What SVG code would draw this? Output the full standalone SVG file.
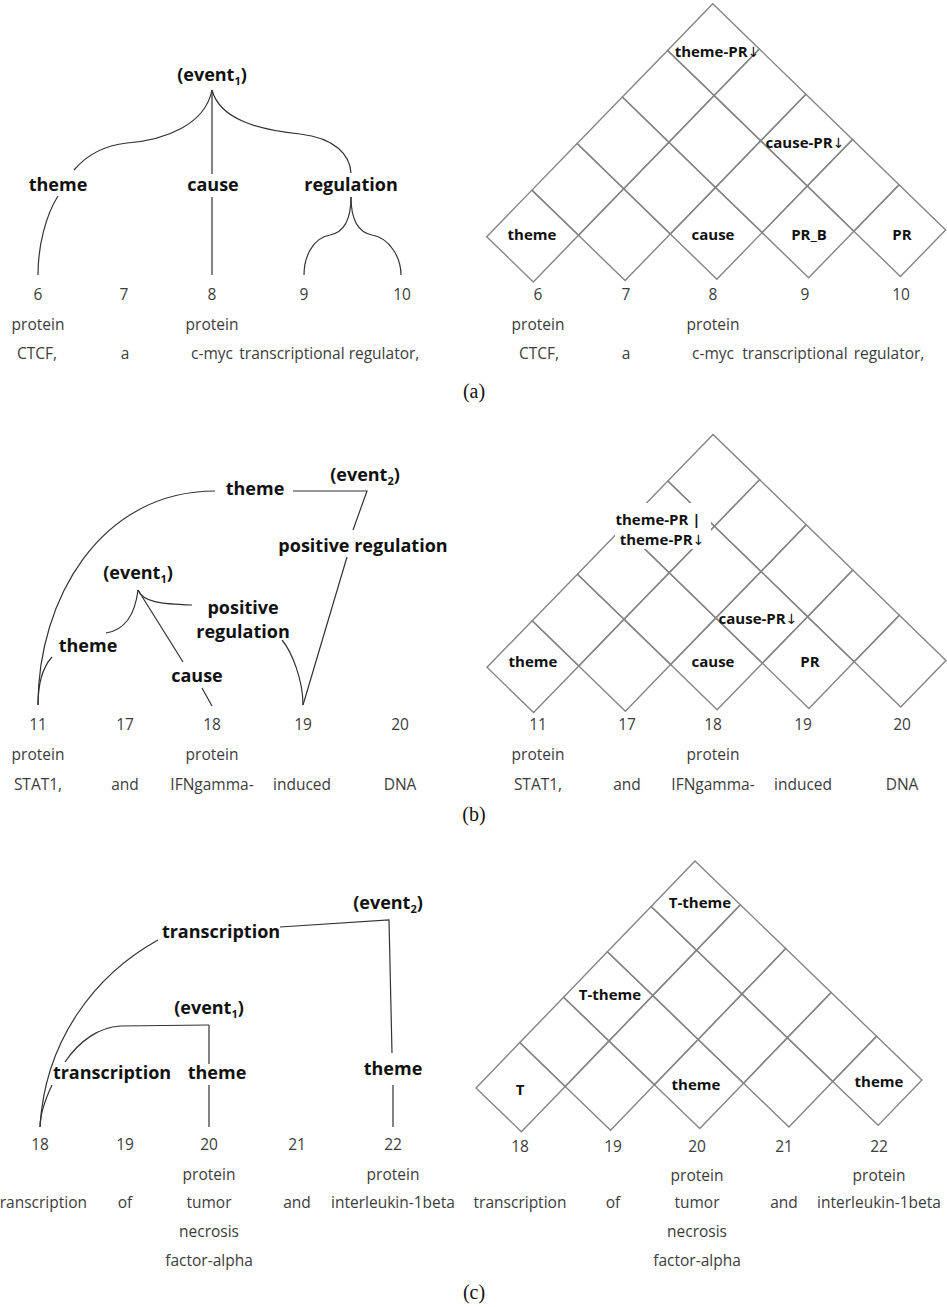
<svg xmlns="http://www.w3.org/2000/svg" xmlns:xlink="http://www.w3.org/1999/xlink" width="947" height="1307" viewBox="0 0 947 1307">
<style>
.lbl{font-family:"Open Sans","Noto Sans",sans-serif;font-weight:bold;font-size:18px;fill:#111;text-anchor:middle}
.glbl{font-family:"Open Sans","Noto Sans",sans-serif;font-weight:bold;font-size:15px;fill:#111;text-anchor:middle}
.arr{font-family:"DejaVu Sans",sans-serif;font-weight:normal;font-size:14px}
.tok{font-family:"Open Sans","Noto Sans",sans-serif;font-size:15.5px;fill:#3c3c3c;text-anchor:middle}
.cap{font-family:"Liberation Serif",serif;font-size:20px;fill:#111;text-anchor:middle}
.edge{fill:none;stroke:#333;stroke-width:1.2}
.bg{fill:#fff}
</style>
<defs>
<g id="grid" fill="none" stroke="#858585">
<polygon points="0,0 1,-1 2,0 1,1"/>
<polygon points="2,0 3,-1 4,0 3,1"/>
<polygon points="4,0 5,-1 6,0 5,1"/>
<polygon points="6,0 7,-1 8,0 7,1"/>
<polygon points="8,0 9,-1 10,0 9,1"/>
<polygon points="1,-1 2,-2 3,-1 2,0"/>
<polygon points="3,-1 4,-2 5,-1 4,0"/>
<polygon points="5,-1 6,-2 7,-1 6,0"/>
<polygon points="7,-1 8,-2 9,-1 8,0"/>
<polygon points="2,-2 3,-3 4,-2 3,-1"/>
<polygon points="4,-2 5,-3 6,-2 5,-1"/>
<polygon points="6,-2 7,-3 8,-2 7,-1"/>
<polygon points="3,-3 4,-4 5,-3 4,-2"/>
<polygon points="5,-3 6,-4 7,-3 6,-2"/>
<polygon points="4,-4 5,-5 6,-4 5,-3"/>
</g>
</defs>

<!-- ===== Panel (a) left ===== -->
<g id="connectors-a">
<path class="edge" d="M212,90 L212,174 M212,197 L212,275"/>
<path class="edge" d="M212,90 C205,125 165,140 127,143 C100,146 85,157 74,170"/>
<path class="edge" d="M58,196 C46,215 38,245 38,275"/>
<path class="edge" d="M212,90 C220,120 260,130 300,134 C335,138 350,155 351,173"/>
<path class="edge" d="M351,197 C351,225 340,233 330,235 C312,238 304,258 304,275"/>
<path class="edge" d="M351,197 C351,225 362,233 372,235 C390,238 401,258 401,275"/>
</g>
<g id="a-event1"><text class="lbl" x="212" y="81">(event<tspan font-size="11" dy="4">1</tspan><tspan dy="-4">)</tspan></text></g>
<g id="a-theme"><text class="lbl" x="58" y="191">theme</text></g>
<g id="a-cause"><text class="lbl" x="213" y="191">cause</text></g>
<g id="a-regulation"><text class="lbl" x="351" y="191">regulation</text></g>
<g id="a-left-tokens">
<text class="tok" x="38" y="300">6</text><text class="tok" x="124" y="300">7</text><text class="tok" x="212" y="300">8</text><text class="tok" x="304" y="300">9</text><text class="tok" x="402" y="300">10</text>
<text class="tok" x="38" y="330">protein</text><text class="tok" x="212" y="330">protein</text>
<text class="tok" x="37" y="359">CTCF,</text><text class="tok" x="125" y="359">a</text><text class="tok" x="212" y="359">c-myc</text><text class="tok" x="292" y="359">transcriptional</text><text class="tok" x="384" y="359">regulator,</text>
</g>

<!-- ===== Panel (a) right ===== -->
<g id="a-grid"><use xlink:href="#grid" href="#grid" stroke-width="0.0305" transform="translate(486.7,236.7) rotate(-0.85) scale(45.9)"/></g>
<g id="a-grid-labels">
<text class="glbl" x="532" y="240">theme</text>
<text class="glbl" x="713" y="240">cause</text>
<text class="glbl" x="809" y="240">PR_B</text>
<text class="glbl" x="902" y="240">PR</text>
<text class="glbl" x="717" y="57">theme-PR<tspan class="arr">↓</tspan></text>
<text class="glbl" x="805" y="148">cause-PR<tspan class="arr">↓</tspan></text>
</g>
<g id="a-right-tokens">
<text class="tok" x="538" y="300">6</text><text class="tok" x="626" y="300">7</text><text class="tok" x="713" y="300">8</text><text class="tok" x="805" y="300">9</text><text class="tok" x="901" y="300">10</text>
<text class="tok" x="538" y="330">protein</text><text class="tok" x="713" y="330">protein</text>
<text class="tok" x="539" y="359">CTCF,</text><text class="tok" x="626" y="359">a</text><text class="tok" x="713" y="359">c-myc</text><text class="tok" x="795" y="359">transcriptional</text><text class="tok" x="889" y="359">regulator,</text>
</g>
<text class="cap" x="474" y="398">(a)</text>

<!-- ===== Panel (b) left ===== -->
<g id="connectors-b">
<path class="edge" d="M38,705 C38,600 100,491 215,491"/>
<path class="edge" d="M293,491 L367,491 L353,530 M347,557 L303,705"/>
<path class="edge" d="M138,590 C143,602 160,604 192,605"/>
<path class="edge" d="M138,590 C135,615 125,630 106,633"/>
<path class="edge" d="M52,657 C42,668 38,685 38,705"/>
<path class="edge" d="M138,590 L183,662 M202,688 L212,706"/>
<path class="edge" d="M282,640 C292,652 303,680 303,705"/>
</g>
<g id="b-event2"><text class="lbl" x="365" y="481">(event<tspan font-size="11" dy="4">2</tspan><tspan dy="-4">)</tspan></text></g>
<g id="b-theme-top"><text class="lbl" x="255" y="495">theme</text></g>
<g id="b-posreg-top"><text class="lbl" x="363" y="552">positive regulation</text></g>
<g id="b-event1"><text class="lbl" x="138" y="579">(event<tspan font-size="11" dy="4">1</tspan><tspan dy="-4">)</tspan></text></g>
<g id="b-posreg"><text class="lbl" x="243" y="614">positive</text><text class="lbl" x="243" y="638">regulation</text></g>
<g id="b-theme"><text class="lbl" x="88" y="652">theme</text></g>
<g id="b-cause"><text class="lbl" x="197" y="682">cause</text></g>
<g id="b-left-tokens">
<text class="tok" x="38" y="730">11</text><text class="tok" x="125" y="730">17</text><text class="tok" x="212" y="730">18</text><text class="tok" x="303" y="730">19</text><text class="tok" x="400" y="730">20</text>
<text class="tok" x="38" y="760">protein</text><text class="tok" x="212" y="760">protein</text>
<text class="tok" x="38" y="790">STAT1,</text><text class="tok" x="125" y="790">and</text><text class="tok" x="212" y="790">IFNgamma-</text><text class="tok" x="302" y="790">induced</text><text class="tok" x="400" y="790">DNA</text>
</g>

<!-- ===== Panel (b) right ===== -->
<g id="b-grid"><use xlink:href="#grid" href="#grid" stroke-width="0.0305" transform="translate(487,667.3) rotate(-0.85) scale(45.9)"/></g>
<g id="b-grid-labels">
<rect class="bg" x="615" y="503" width="96" height="46"/>
<text class="glbl" x="658" y="525">theme-PR |</text>
<text class="glbl" x="662" y="545">theme-PR<tspan class="arr">↓</tspan></text>
<text class="glbl" x="758" y="624">cause-PR<tspan class="arr">↓</tspan></text>
<text class="glbl" x="533" y="667">theme</text>
<text class="glbl" x="713" y="667">cause</text>
<text class="glbl" x="810" y="667">PR</text>
</g>
<g id="b-right-tokens">
<text class="tok" x="538" y="730">11</text><text class="tok" x="627" y="730">17</text><text class="tok" x="713" y="730">18</text><text class="tok" x="803" y="730">19</text><text class="tok" x="902" y="730">20</text>
<text class="tok" x="538" y="760">protein</text><text class="tok" x="713" y="760">protein</text>
<text class="tok" x="538" y="790">STAT1,</text><text class="tok" x="627" y="790">and</text><text class="tok" x="713" y="790">IFNgamma-</text><text class="tok" x="803" y="790">induced</text><text class="tok" x="902" y="790">DNA</text>
</g>
<text class="cap" x="474" y="821">(b)</text>

<!-- ===== Panel (c) left ===== -->
<g id="connectors-c">
<path class="edge" d="M280,927 L389,920 L392,1053 M393,1085 L393,1127"/>
<path class="edge" d="M158,940 C95,975 45,1040 40,1127"/>
<path class="edge" d="M209,1025 L209,1064 M209,1085 L209,1127"/>
<path class="edge" d="M209,1025 L120,1026 C100,1027 80,1040 65,1062"/>
<path class="edge" d="M52,1085 C45,1100 40,1115 40,1127"/>
</g>
<g id="c-event2"><text class="lbl" x="388" y="909">(event<tspan font-size="11" dy="4">2</tspan><tspan dy="-4">)</tspan></text></g>
<g id="c-transcription-top"><text class="lbl" x="221" y="938">transcription</text></g>
<g id="c-event1"><text class="lbl" x="209" y="1014">(event<tspan font-size="11" dy="4">1</tspan><tspan dy="-4">)</tspan></text></g>
<g id="c-transcription"><text class="lbl" x="112" y="1079">transcription</text></g>
<g id="c-theme1"><text class="lbl" x="217" y="1079">theme</text></g>
<g id="c-theme2"><text class="lbl" x="393" y="1075">theme</text></g>
<g id="c-left-tokens">
<text class="tok" x="40" y="1150">18</text><text class="tok" x="125" y="1150">19</text><text class="tok" x="209" y="1150">20</text><text class="tok" x="297" y="1150">21</text><text class="tok" x="393" y="1150">22</text>
<text class="tok" x="209" y="1180">protein</text><text class="tok" x="393" y="1180">protein</text>
<text class="tok" x="87" y="1208" style="text-anchor:end">transcription</text><text class="tok" x="125" y="1208">of</text><text class="tok" x="209" y="1208">tumor</text><text class="tok" x="297" y="1208">and</text><text class="tok" x="393" y="1208">interleukin-1beta</text>
<text class="tok" x="209" y="1237">necrosis</text>
<text class="tok" x="209" y="1266">factor-alpha</text>
</g>

<!-- ===== Panel (c) right ===== -->
<g id="c-grid"><use xlink:href="#grid" href="#grid" stroke-width="0.0314" transform="translate(476,1088) rotate(-1.03) scale(44.6)"/></g>
<g id="c-grid-labels">
<text class="glbl" x="520" y="1095">T</text>
<text class="glbl" x="696" y="1090">theme</text>
<text class="glbl" x="879" y="1087">theme</text>
<text class="glbl" x="610" y="1000">T-theme</text>
<text class="glbl" x="700" y="908">T-theme</text>
</g>
<g id="c-right-tokens">
<text class="tok" x="520" y="1152">18</text><text class="tok" x="613" y="1152">19</text><text class="tok" x="697" y="1152">20</text><text class="tok" x="784" y="1152">21</text><text class="tok" x="879" y="1152">22</text>
<text class="tok" x="697" y="1181">protein</text><text class="tok" x="879" y="1181">protein</text>
<text class="tok" x="520" y="1208">transcription</text><text class="tok" x="613" y="1208">of</text><text class="tok" x="697" y="1208">tumor</text><text class="tok" x="784" y="1208">and</text><text class="tok" x="879" y="1208">interleukin-1beta</text>
<text class="tok" x="697" y="1237">necrosis</text>
<text class="tok" x="697" y="1266">factor-alpha</text>
</g>
<text class="cap" x="474" y="1299">(c)</text>
</svg>
